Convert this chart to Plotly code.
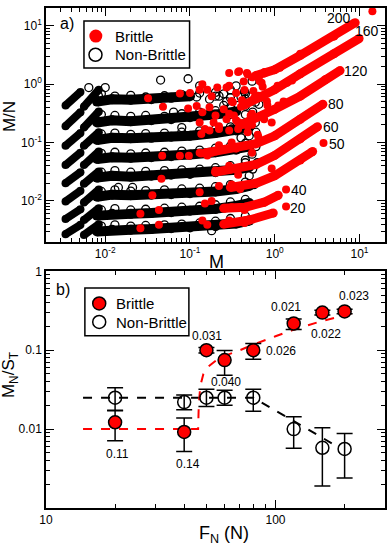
import plotly.graph_objects as go

# ---------------- panel a) : M/N vs M, one family per normal force ----------------
curve_labels = ["200", "160", "120", "80", "60", "50", "40", "20"]

# short diagonal streaks at the far left (same M columns for every family)
streak_m = [0.0034, 0.0051, None, 0.0056, 0.0084]
streak_mn = [
    [0.43, 0.73, None, 0.41, 0.8],
    [0.19, 0.33, None, 0.18, 0.34],
    [0.088, 0.145, None, 0.088, 0.15],
    [0.041, 0.067, None, 0.041, 0.07],
    [0.02, 0.031, None, 0.0196, 0.032],
    [0.0098, 0.0149, None, 0.0094, 0.0156],
    [0.0049, 0.0072, None, 0.0047, 0.0075],
    [0.0027, 0.0039, None, 0.0026, 0.004],
]

# dense non-brittle plateau
band_m = [0.008, 0.012, 0.02, 0.035, 0.06, 0.1, 0.2, 0.35, 0.5]
band_mn = [
    [0.5, 0.55, 0.54, 0.55, 0.58, 0.62, None, None, None],
    [0.22, 0.24, 0.23, 0.24, 0.25, 0.27, 0.3, 0.34, None],
    [0.11, 0.12, 0.118, 0.12, 0.125, 0.13, 0.145, 0.16, 0.18],
    [0.052, 0.056, 0.055, 0.056, 0.058, 0.062, 0.068, 0.075, 0.085],
    [0.025, 0.027, 0.026, 0.027, 0.028, 0.029, 0.031, 0.034, 0.038],
    [0.0118, 0.0128, 0.0125, 0.0128, 0.013, 0.0135, 0.0145, 0.016, 0.018],
    [0.0056, 0.006, 0.006, 0.0062, 0.0064, 0.0068, 0.0073, 0.0082, 0.0092],
    [0.003, 0.0032, 0.0032, 0.0033, 0.0034, 0.0035, 0.0037, 0.0041, 0.0046],
]

# open circles along the top edge of each plateau
edge_m = [0.009, 0.013, 0.02, 0.03, 0.05, 0.08, 0.13, 0.2, 0.3, 0.45]
edge_mn = [
    [0.68, 0.62, 0.64, 0.6, 0.63, 0.66, 0.7, 0.72, 0.8, 0.68],
    [0.3, 0.29, 0.28, 0.29, 0.28, 0.31, 0.33, 0.35, 0.4, 0.42],
    [0.14, 0.145, 0.138, 0.142, 0.145, 0.15, 0.158, 0.17, 0.185, 0.21],
    [0.065, 0.068, 0.064, 0.066, 0.068, 0.071, 0.074, 0.08, 0.087, 0.097],
    [0.031, 0.033, 0.031, 0.032, 0.033, 0.034, 0.035, 0.037, 0.04, 0.045],
    [0.0145, 0.0155, 0.0147, 0.015, 0.0155, 0.016, 0.0165, 0.0175, 0.019, 0.021],
    [0.007, 0.0074, 0.007, 0.0072, 0.0075, 0.0078, 0.0081, 0.0086, 0.0096, 0.0106],
    [0.0037, 0.0039, 0.0037, 0.0038, 0.0039, 0.004, 0.0042, 0.0045, 0.005, 0.0055],
]

# brittle branch, dense red streaks at large M
red_m = [
    [0.6, 0.76, 1.0, 2.0, 5.0, 8.9],
    [0.45, 0.7, 1.0, 2.0, 5.0, 9.9],
    [0.4, 0.7, 1.0, 2.0, 4.0, 5.9],
    [0.15, 0.35, 0.6, 1.0, 2.0, 3.7],
    [0.2, 0.3, 0.6, 1.0, 2.0, 3.2],
    [0.3, 0.6, 1.0, 2.0, 2.8],
    [0.25, 0.45, 0.75, 1.1],
    [0.25, 0.5, 0.96],
]
red_mn = [
    [1.4, 1.55, 1.76, 3.1, 6.6, 11.2],
    [0.45, 0.6, 0.8, 1.5, 3.3, 6.0],
    [0.2, 0.28, 0.37, 0.62, 1.2, 1.7],
    [0.066, 0.08, 0.095, 0.13, 0.25, 0.45],
    [0.031, 0.035, 0.042, 0.06, 0.115, 0.185],
    [0.017, 0.02, 0.027, 0.05, 0.07],
    [0.0075, 0.0078, 0.0095, 0.0125],
    [0.004, 0.0047, 0.0062],
]

# scattered brittle events
brittle_m = [0.032, 0.048, 0.076, 0.1, 0.13, 0.14, 0.16, 0.21, 0.29, 0.35, 0.47, 0.54,
             0.29, 0.43, 0.76, 0.7, 2.0, 1.15, 0.095, 0.12, 0.13, 0.15, 0.19, 0.22,
             0.29, 0.35, 0.44, 0.54, 0.64, 0.82, 0.047, 0.076, 0.097, 0.046, 0.036, 0.026,
             0.043, 0.026, 0.043, 0.13, 0.15, 0.14, 0.16, 0.18, 0.13, 0.18, 0.22, 0.31,
             0.2, 0.29, 0.37, 0.22, 0.31, 0.39, 0.31, 0.44, 0.29, 0.44, 0.92, 0.54,
             0.64, 0.92, 0.54, 1.1, 1.4, 0.37, 0.18, 0.56, 0.31,
             0.37, 0.48, 0.59, 0.27, 0.32, 0.41, 0.14, 0.17, 0.2, 0.25, 0.27, 0.33,
             0.136, 0.17, 0.22, 0.29, 0.37, 0.48, 0.136, 0.16, 0.2, 0.38, 0.66, 0.72,
             1.08, 1.6, 0.44, 0.57, 0.81, 1.27, 0.4, 0.52, 0.75, 0.38, 0.48, 0.63,
             14.2, 3.76, 1.36, 1.36]
brittle_mn = [0.57, 0.41, 0.69, 0.7, 0.8, 0.99, 0.8, 0.87, 0.93, 0.7, 1.55, 1.3,
              1.55, 1.1, 1.6, 1.05, 3.3, 1.9, 0.38, 0.42, 0.22, 0.17, 0.22, 0.17,
              0.31, 0.24, 0.43, 0.31, 0.63, 0.43, 0.059, 0.059, 0.059, 0.024, 0.0125, 0.006,
              0.007, 0.0034, 0.0039, 0.014, 0.009, 0.0046, 0.0039, 0.01, 0.067, 0.067, 0.09, 0.1,
              0.033, 0.04, 0.028, 0.018, 0.019, 0.016, 0.0078, 0.007, 0.0046, 0.0042, 0.036, 0.067,
              0.124, 0.22, 0.2, 0.43, 1.05, 0.17, 0.62, 0.76, 0.51,
              1.6, 1.46, 1.37, 0.87, 0.49, 0.53, 0.33, 0.4, 0.29, 0.37, 0.25, 0.29,
              0.14, 0.16, 0.19, 0.16, 0.22, 0.19, 0.065, 0.06, 0.07, 1.66, 1.13, 0.9,
              0.93, 1.15, 0.79, 0.57, 0.5, 0.5, 0.41, 0.29, 0.25, 0.22, 0.15, 0.135,
              17.6, 0.098, 0.0157, 0.008]

# scattered non-brittle events
nonbrittle_m = [0.045, 0.095, 0.0064, 0.01, 0.0083, 0.13, 0.35, 0.44, 0.54, 0.59, 0.37, 0.25,
                0.08, 0.064, 0.021, 0.0143, 0.31, 0.44, 0.59, 0.54, 0.5, 0.57, 0.18,
                0.12, 0.17, 0.22, 0.27, 0.4, 0.2, 0.25, 0.3, 0.45, 0.5, 0.62, 0.65,
                0.55, 0.3, 0.45, 0.6, 0.5, 0.4, 0.6, 0.45, 0.55, 0.62]
nonbrittle_mn = [1.17, 1.23, 0.87, 0.87, 0.63, 0.93, 0.93, 0.74, 1.12, 0.49, 0.43, 0.43,
                 0.18, 0.33, 0.017, 0.017, 0.17, 0.21, 0.22, 0.063, 0.027, 0.019, 0.0031,
                 0.6, 0.55, 0.62, 0.5, 0.6, 0.62, 0.68, 0.58, 0.55, 0.62, 0.6, 0.45,
                 0.33, 0.3, 0.3, 0.15, 0.13, 0.12, 0.085, 0.05, 0.035, 0.045]

# ---------------- panel b) : M_N/S_T vs F_N ----------------
force_n = [20, 40, 50, 60, 80, 120, 160, 200]
brittle_ratio = [0.0122, 0.0092, 0.1, 0.075, 0.1, 0.218, 0.30, 0.31]
brittle_err_hi = [0.0051, 0.0046, 0.008, 0.024, 0.022, 0.03, 0.02, 0.02]
brittle_err_lo = [0.0051, 0.004, 0.008, 0.027, 0.0234, 0.035, 0.02, 0.02]
brittle_notes = ["0.11", "0.14", "0.031", "0.040", "0.026", "0.021", "0.022", "0.023"]

nonbrittle_ratio = [0.025, 0.022, 0.025, 0.025, 0.025, 0.01, 0.0058, 0.0056]
nonbrittle_err_hi = [0.0085, 0.005, 0.007, 0.006, 0.007, 0.0043, 0.0046, 0.0032]
nonbrittle_err_lo = [0.0079, 0.0044, 0.0056, 0.005, 0.0082, 0.0043, 0.0039, 0.0032]

red_fit_f = [14.5, 46, 46.3, 47, 48.5, 51, 55, 62, 70, 80, 100, 120, 160, 200, 232]
red_fit_v = [0.01, 0.01, 0.02, 0.035, 0.05, 0.062, 0.074, 0.088, 0.1, 0.118, 0.15, 0.182, 0.235, 0.278, 0.31]
black_fit_f = [14.5, 80, 190]
black_fit_v = [0.025, 0.025, 0.0058]

legend_names = ["Brittle", "Non-Brittle"]

RED = "#ff0000"
FONT = "Liberation Sans, Arial, sans-serif"

fig = go.Figure()
skip = dict(showlegend=False, hoverinfo="skip")
open_circle = dict(symbol="circle-open", color="black", size=8, line=dict(width=1.3))

# panel a) black non-brittle clouds
for k in range(len(curve_labels)):
    fig.add_trace(go.Scatter(x=streak_m, y=streak_mn[k], mode="lines+markers",
                             line=dict(color="black", width=8), marker=dict(color="black", size=8),
                             xaxis="x", yaxis="y", **skip))
    fig.add_trace(go.Scatter(x=band_m, y=band_mn[k], mode="lines+markers",
                             line=dict(color="black", width=10), marker=dict(color="black", size=10),
                             xaxis="x", yaxis="y", **skip))
    fig.add_trace(go.Scatter(x=edge_m, y=edge_mn[k], mode="markers", marker=open_circle,
                             xaxis="x", yaxis="y", **skip))

fig.add_trace(go.Scatter(x=nonbrittle_m, y=nonbrittle_mn, mode="markers", marker=open_circle,
                         xaxis="x", yaxis="y", **skip))

# panel a) red brittle branches
for k in range(len(curve_labels)):
    fig.add_trace(go.Scatter(x=red_m[k], y=red_mn[k], mode="lines+markers",
                             line=dict(color=RED, width=9), marker=dict(color=RED, size=9),
                             xaxis="x", yaxis="y", **skip))

fig.add_trace(go.Scatter(x=brittle_m, y=brittle_mn, mode="markers",
                         marker=dict(color=RED, size=8), xaxis="x", yaxis="y", **skip))

# panel b) fits
fig.add_trace(go.Scatter(x=black_fit_f, y=black_fit_v, mode="lines",
                         line=dict(color="black", width=2, dash="dash"), xaxis="x2", yaxis="y2", **skip))
fig.add_trace(go.Scatter(x=red_fit_f, y=red_fit_v, mode="lines",
                         line=dict(color=RED, width=2, dash="dash"), xaxis="x2", yaxis="y2", **skip))

# panel b) points
fig.add_trace(go.Scatter(
    x=force_n, y=brittle_ratio, mode="markers",
    marker=dict(color=RED, size=13, line=dict(color="black", width=1.5)),
    error_y=dict(type="data", array=brittle_err_hi, arrayminus=brittle_err_lo,
                 color="black", thickness=1.5, width=8),
    xaxis="x2", yaxis="y2", **skip))
fig.add_trace(go.Scatter(
    x=force_n, y=nonbrittle_ratio, mode="markers",
    marker=dict(symbol="circle-open", color="black", size=13, line=dict(width=1.5)),
    error_y=dict(type="data", array=nonbrittle_err_hi, arrayminus=nonbrittle_err_lo,
                 color="black", thickness=1.5, width=8),
    xaxis="x2", yaxis="y2", **skip))

# legend keys, drawn on unit overlay axes of each panel
fig.add_trace(go.Scatter(x=[0.147], y=[0.880], mode="markers", marker=dict(color=RED, size=13),
                         xaxis="x3", yaxis="y3", **skip))
fig.add_trace(go.Scatter(x=[0.146], y=[0.800], mode="markers",
                         marker=dict(symbol="circle-open", color="black", size=13, line=dict(width=1.5)),
                         xaxis="x3", yaxis="y3", **skip))
fig.add_trace(go.Scatter(x=[0.157], y=[0.864], mode="markers",
                         marker=dict(color=RED, size=13, line=dict(color="black", width=1.5)),
                         xaxis="x4", yaxis="y4", **skip))
fig.add_trace(go.Scatter(x=[0.157], y=[0.786], mode="markers",
                         marker=dict(symbol="circle-open", color="black", size=13, line=dict(width=1.5)),
                         xaxis="x4", yaxis="y4", **skip))

# ---------------- axes ----------------
def minor_ticks(decades):
    return [d * 10.0 ** e for e in decades for d in range(2, 10)]


def axis_style(minor_vals):
    return dict(
        type="log", showline=True, linecolor="black", linewidth=1.5, mirror="ticks",
        ticks="inside", ticklen=8, tickwidth=1.2, tickcolor="black",
        showgrid=False, zeroline=False, tickfont=dict(size=12, color="black"),
        minor=dict(ticks="inside", ticklen=4, tickwidth=1, tickcolor="black",
                   tickmode="array", tickvals=minor_vals, showgrid=False),
    )


pow_vals = [0.01, 0.1, 1, 10]
pow_text = ["10<sup>-2</sup>", "10<sup>-1</sup>", "10<sup>0</sup>", "10<sup>1</sup>"]

top_x = axis_style(minor_ticks(range(-3, 2)))
top_x.update(domain=[0, 1], anchor="y", range=[-2.699, 1.301], tickmode="array",
             tickvals=pow_vals, ticktext=pow_text)
top_y = axis_style(minor_ticks(range(-3, 2)))
top_y.update(domain=[0.5325, 1], anchor="x", range=[-2.699, 1.301], tickmode="array",
             tickvals=pow_vals, ticktext=pow_text)
bot_x = axis_style(minor_ticks([1, 2]))
bot_x.update(domain=[0, 1], anchor="y2", range=[1, 2.477], tickmode="array",
             tickvals=[10, 100], ticktext=["10", "100"])
bot_y = axis_style(minor_ticks([-3, -2, -1]))
bot_y.update(domain=[0, 0.4734], anchor="x2", range=[-3, 0], tickmode="array",
             tickvals=[0.01, 0.1, 1], ticktext=["0.01", "0.1", "1"])

unit = dict(range=[0, 1], visible=False, fixedrange=True)

fig.update_layout(
    width=388, height=548,
    margin=dict(l=46, r=2, t=1, b=40),
    paper_bgcolor="white", plot_bgcolor="white",
    font=dict(family=FONT, color="black"),
    showlegend=False,
    xaxis=top_x, yaxis=top_y, xaxis2=bot_x, yaxis2=bot_y,
    xaxis3=dict(overlaying="x", anchor="y3", **unit),
    yaxis3=dict(overlaying="y", anchor="x3", **unit),
    xaxis4=dict(overlaying="x2", anchor="y4", **unit),
    yaxis4=dict(overlaying="y2", anchor="x4", **unit),
)

# legend frames
for x0, x1, y0, y1 in [(0.112, 0.4235, 0.880, 0.974), (0.1147, 0.4215, 0.3446, 0.4398)]:
    fig.add_shape(type="rect", xref="paper", yref="paper", x0=x0, x1=x1, y0=y0, y1=y1,
                  fillcolor="white", line=dict(color="black", width=1.5), layer="below")

# ---------------- text ----------------
notes = []
curve_pos = [(0.865, 0.980), (0.948, 0.955), (0.914, 0.875), (0.855, 0.808),
             (0.840, 0.762), (0.858, 0.729), (0.747, 0.637), (0.742, 0.601)]
for lab, (px, py) in zip(curve_labels, curve_pos):
    notes.append(dict(x=px, y=py, text=lab, font=dict(size=14)))

note_pos = [(0.212, 0.109), (0.418, 0.089), (0.474, 0.345), (0.532, 0.252),
            (0.694, 0.314), (0.709, 0.402), (0.826, 0.349), (0.909, 0.424)]
for lab, (px, py) in zip(brittle_notes, note_pos):
    notes.append(dict(x=px, y=py, text=lab, font=dict(size=12)))

for lab, (px, py) in zip(legend_names * 2, [(0.198, 0.944), (0.198, 0.907), (0.201, 0.409), (0.201, 0.372)]):
    notes.append(dict(x=px, y=py, text=lab, font=dict(size=15), xanchor="left"))

notes += [
    dict(x=0.061, y=0.969, text="a)", font=dict(size=16)),
    dict(x=0.051, y=0.438, text="b)", font=dict(size=16)),
    dict(x=-0.106, y=0.782, text="M/N", textangle=-90, font=dict(size=17)),
    dict(x=0.503, y=0.493, text="M", font=dict(size=18)),
    dict(x=-0.106, y=0.266, text="M<sub>N</sub>/S<sub>T</sub>", textangle=-90, font=dict(size=17)),
    dict(x=0.524, y=-0.053, text="F<sub>N</sub> (N)", font=dict(size=18)),
]
for n in notes:
    n.setdefault("xanchor", "center")
    n.update(xref="paper", yref="paper", showarrow=False, yanchor="middle")
fig.update_layout(annotations=notes)

# the page's default body margin would shift the 388x548 figure off the window
fig.write_html("out.html", config={"displayModeBar": False},
               post_script="document.body.style.margin='0';")
